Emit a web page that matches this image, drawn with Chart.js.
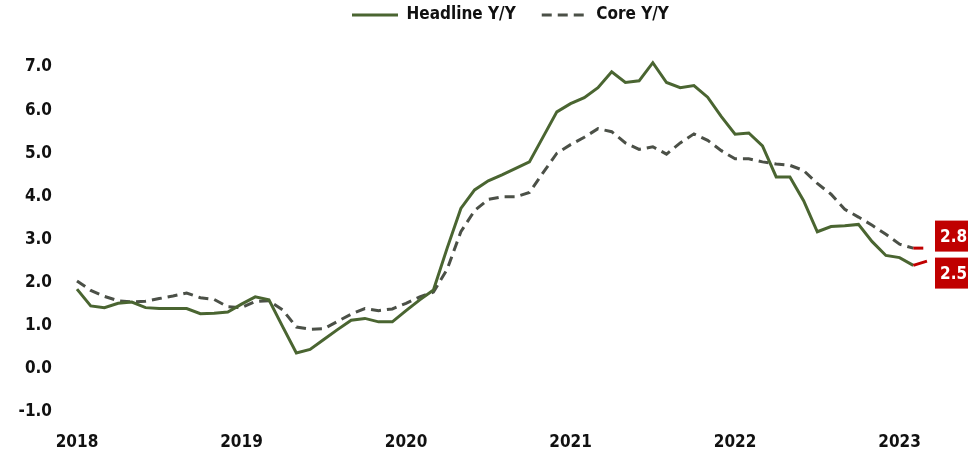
<!DOCTYPE html>
<html lang="en">
<head>
    <meta charset="UTF-8">
    <title>Headline vs Core Y/Y</title>
    <script src="https://cdn.jsdelivr.net/npm/chart.js"></script>
    <style>
        html, body {
            margin: 0;
            padding: 0;
            background: #fff;
        }
        .wrap {
            width: 968px;
            height: 452px;
        }
    </style>
</head>
<body>
    <div class="wrap">
        <canvas id="cpiChart" width="968" height="452"></canvas>
    </div>

    <script>
        // monthly readings, Jan 2018 - Mar 2023
        const years = ['2018', '2019', '2020', '2021', '2022', '2023'];
        const monthsInLastYear = 3;

        const headline = [
            1.85, 1.46, 1.42, 1.52, 1.55, 1.42, 1.40, 1.40, 1.40, 1.28, 1.29, 1.32,
            1.50, 1.67, 1.60, 0.98, 0.37, 0.45, 0.68, 0.91, 1.13, 1.17, 1.09, 1.09,
            1.35, 1.60, 1.83, 2.80, 3.72, 4.15, 4.36, 4.50, 4.65, 4.80, 5.38, 5.96,
            6.15, 6.29, 6.52, 6.89, 6.64, 6.68, 7.10, 6.64, 6.52, 6.57, 6.30, 5.85,
            5.44, 5.47, 5.17, 4.45, 4.45, 3.90, 3.18, 3.30, 3.32, 3.35, 2.95, 2.63,
            2.58, 2.40, 2.50
        ];
        const core = [
            2.04, 1.82, 1.68, 1.58, 1.55, 1.57, 1.63, 1.69, 1.76, 1.65, 1.61, 1.44,
            1.42, 1.56, 1.58, 1.37, 0.97, 0.92, 0.93, 1.10, 1.27, 1.40, 1.35, 1.39,
            1.52, 1.67, 1.78, 2.31, 3.18, 3.67, 3.93, 3.99, 3.99, 4.09, 4.55, 5.00,
            5.20, 5.37, 5.57, 5.50, 5.24, 5.09, 5.15, 4.98, 5.24, 5.45, 5.30, 5.06,
            4.87, 4.87, 4.80, 4.75, 4.72, 4.60, 4.30, 4.05, 3.70, 3.52, 3.33, 3.12,
            2.89, 2.80, 2.80
        ];
        const yTicks = [-1, 0, 1, 2, 3, 4, 5, 6, 7];

        const labels = [];
        years.forEach((y, yi) => {
            const n = yi === years.length - 1 ? monthsInLastYear : 12;
            for (let m = 1; m <= n; m++) labels.push(y + '-' + String(m).padStart(2, '0'));
        });

        const GREEN = '#4a6531';
        const GREY = '#4b5047';
        const RED = '#c00000';
        const FONT = "'DejaVu Sans Condensed', 'Liberation Sans Narrow', 'DejaVu Sans', sans-serif";
        const LEGEND_GAP = 26;

        Chart.defaults.font.family = FONT;
        Chart.defaults.font.weight = 'bold';
        Chart.defaults.font.size = 17;
        Chart.defaults.color = '#111';

        const last = labels.length - 1;
        const redTail = ctx => ctx.p1DataIndex === last ? RED : undefined;

        // red value tags next to the last point of each line, pushed apart if they overlap
        const endTags = {
            id: 'endTags',
            afterDatasetsDraw(chart) {
                const { ctx, chartArea } = chart;
                const boxH = 31, gap = 6;
                const tags = chart.data.datasets.map((ds, i) => {
                    const pt = chart.getDatasetMeta(i).data[last];
                    return { text: ds.data[last].toFixed(1), x: pt.x, y: pt.y };
                }).sort((a, b) => a.y - b.y);
                const need = boxH + gap;
                if (tags[1].y - tags[0].y < need) {
                    const mid = (tags[0].y + tags[1].y) / 2;
                    tags[0].y = mid - need / 2;
                    tags[1].y = mid + need / 2;
                }
                ctx.save();
                ctx.font = 'bold 17px ' + FONT;
                ctx.textBaseline = 'middle';
                tags.forEach(t => {
                    const left = chartArea.right + 8;
                    ctx.fillStyle = RED;
                    ctx.fillRect(left, t.y - boxH / 2, 44, boxH);
                    ctx.fillStyle = '#fff';
                    ctx.fillText(t.text, left + 5, t.y + 1);
                });
                ctx.restore();
            }
        };

        // legend sits in a fixed band above the plot, nudged to start at x=352
        const legendBand = {
            id: 'legendBand',
            beforeInit(chart) {
                const fit = chart.legend.fit;
                chart.legend.fit = function () {
                    fit.call(this);
                    this.height = 67;
                };
            },
            afterLayout(chart) {
                const lg = chart.legend;
                const start = (lg.left + LEGEND_GAP + lg.right - lg.lineWidths[0]) / 2;
                const dx = 352 - start;
                lg.left += dx;
                lg.right += dx;
                lg.top = 15 - 8.5 - LEGEND_GAP;
            }
        };

        new Chart(document.getElementById('cpiChart'), {
            type: 'line',
            data: {
                labels: labels,
                datasets: [
                    {
                        label: 'Headline Y/Y',
                        data: headline,
                        borderColor: GREEN,
                        backgroundColor: GREEN,
                        borderWidth: 3,
                        pointRadius: 0,
                        tension: 0,
                        clip: false,
                        segment: { borderColor: redTail }
                    },
                    {
                        label: 'Core Y/Y',
                        data: core,
                        borderColor: GREY,
                        backgroundColor: GREY,
                        borderWidth: 3,
                        borderDash: [10, 6],
                        pointRadius: 0,
                        tension: 0,
                        clip: false,
                        segment: { borderColor: redTail }
                    }
                ]
            },
            options: {
                responsive: false,
                animation: false,
                layout: { padding: { left: 0, right: 41, top: 0, bottom: 0 } },
                plugins: {
                    legend: {
                        position: 'top',
                        labels: {
                            usePointStyle: true,
                            pointStyle: 'line',
                            pointStyleWidth: 46,
                            padding: LEGEND_GAP,
                            font: { size: 17, weight: 'bold' },
                            color: '#111',
                            generateLabels: chart =>
                                Chart.defaults.plugins.legend.labels.generateLabels(chart).map((item, i) => ({
                                    ...item,
                                    strokeStyle: chart.data.datasets[i].borderColor,
                                    lineDash: chart.data.datasets[i].borderDash || [],
                                    lineWidth: 3
                                }))
                        }
                    },
                    tooltip: { enabled: false }
                },
                scales: {
                    x: {
                        grid: { display: false, drawTicks: false },
                        border: { display: false },
                        ticks: {
                            autoSkip: false,
                            maxRotation: 0,
                            padding: 20,
                            callback: (v, i) => i % 12 === 0 ? labels[i].slice(0, 4) : null
                        },
                        afterFit: s => { s.height = 40; }
                    },
                    y: {
                        min: yTicks[0],
                        max: yTicks[yTicks.length - 1],
                        grid: { display: false, drawTicks: false },
                        border: { display: false },
                        afterBuildTicks: s => { s.ticks = yTicks.map(v => ({ value: v })); },
                        ticks: {
                            padding: 25,
                            callback: v => Number(v).toFixed(1)
                        },
                        afterFit: s => { s.width = 77; }
                    }
                }
            },
            plugins: [legendBand, endTags]
        });
    </script>
</body>
</html>
